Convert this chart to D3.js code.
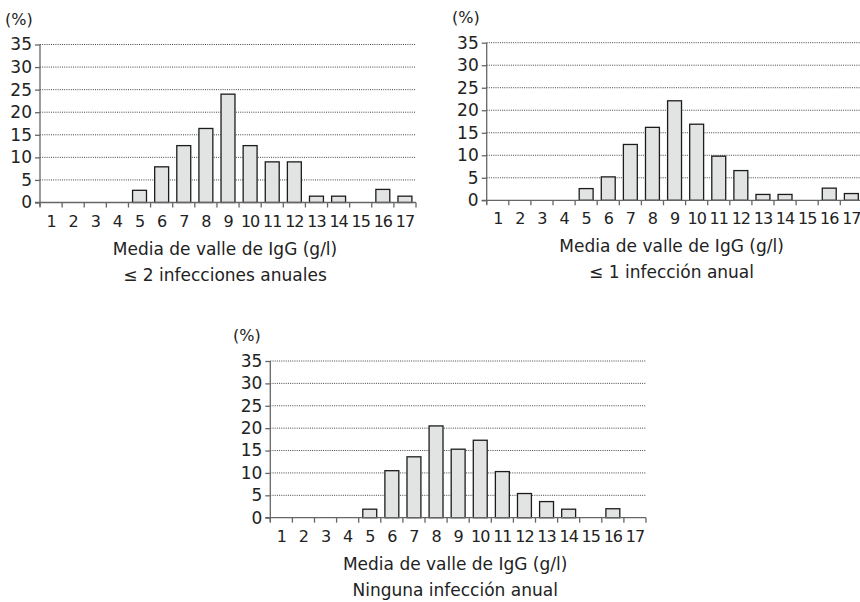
<!DOCTYPE html>
<html>
<head>
<meta charset="utf-8">
<script src="https://cdn.jsdelivr.net/npm/d3@7"></script>
<style>
  body { margin: 0; background: #fff; }
  svg { display: block; font-family: "DejaVu Sans", sans-serif; }
</style>
</head>
<body>
<svg id="chart" width="860" height="602"></svg>
<script>
const bins = ["1","2","3","4","5","6","7","8","9","10","11","12","13","14","15","16","17"];
const yTicks = [0, 5, 10, 15, 20, 25, 30, 35];
const xTitle = "Media de valle de IgG (g/l)";

const upTo2 = [0, 0, 0, 0, 2.7, 7.9, 12.6, 16.4, 24.0, 12.6, 9.0, 9.0, 1.4, 1.4, 0, 2.9, 1.4];
const upTo1 = [0, 0, 0, 0, 2.6, 5.2, 12.4, 16.2, 22.1, 16.9, 9.8, 6.6, 1.3, 1.3, 0, 2.7, 1.5];
const noInfection = [0, 0, 0, 0, 1.9, 10.5, 13.6, 20.5, 15.3, 17.3, 10.3, 5.4, 3.6, 1.9, 0, 2.0, 0];

const panelTitles = ["≤ 2 infecciones anuales", "≤ 1 infección anual", "Ninguna infección anual"];

const svg = d3.select("#chart");

function drawPanel(values, title, box) {
    const x = d3.scaleBand()
        .domain(bins)
        .range([box.left, box.right]);
    const y = d3.scaleLinear()
        .domain([0, 35])
        .range([box.bottom, box.top]);

    const g = svg.append("g");

    // dotted grid lines
    g.selectAll("line.grid")
        .data(yTicks.filter(d => d > 0))
        .enter()
        .append("line")
        .attr("class", "grid")
        .attr("x1", box.left)
        .attr("x2", Math.min(box.right, 860))
        .attr("y1", d => y(d))
        .attr("y2", d => y(d))
        .attr("stroke", "#444")
        .attr("stroke-width", 1)
        .attr("stroke-dasharray", "1,1.2");

    // bars
    const barW = x.bandwidth() * 0.63;
    g.selectAll("rect")
        .data(values.map((v, i) => ({ bin: bins[i], v })).filter(d => d.v > 0))
        .enter()
        .append("rect")
        .attr("x", d => x(d.bin) + (x.bandwidth() - barW) / 2)
        .attr("y", d => y(d.v))
        .attr("width", barW)
        .attr("height", d => y(0) - y(d.v))
        .attr("fill", "#e2e4e4")
        .attr("stroke", "#1c1c1c")
        .attr("stroke-width", 1.3);

    // y axis
    const yAxis = g.append("g")
        .attr("transform", `translate(${box.left},0)`)
        .call(d3.axisLeft(y).tickValues(yTicks).tickSize(5).tickPadding(3));
    yAxis.attr("font-size", null).attr("font-family", null);
    yAxis.select(".domain").attr("d", `M0,${box.top}V${box.bottom + 4}`);
    yAxis.selectAll(".domain, .tick line").attr("stroke", "#666").attr("stroke-width", 1.3);
    yAxis.selectAll("text")
        .style("font-size", "17px")
        .attr("fill", "#222");

    // x axis: ticks at bin edges
    const edges = bins.map(b => x(b)).concat([box.right]);
    const xAxis = g.append("g");
    xAxis.append("line")
        .attr("x1", box.left - 5)
        .attr("x2", box.right)
        .attr("y1", y(0))
        .attr("y2", y(0));
    xAxis.selectAll("line.tick")
        .data(edges)
        .enter()
        .append("line")
        .attr("class", "tick")
        .attr("x1", d => d)
        .attr("x2", d => d)
        .attr("y1", y(0))
        .attr("y2", y(0) + 5);
    xAxis.selectAll("line").attr("stroke", "#666").attr("stroke-width", 1.3);

    xAxis.selectAll("text")
        .data(bins)
        .enter()
        .append("text")
        .attr("x", d => x(d) + x.bandwidth() / 2)
        .attr("y", y(0) + 24)
        .attr("text-anchor", "middle")
        .style("font-size", "16px")
        .style("letter-spacing", "-1px")
        .attr("fill", "#222")
        .text(d => d);

    const mid = (box.left + box.right) / 2 - 3;

    g.append("text")
        .attr("x", box.pctX)
        .attr("y", box.top - 20)
        .style("font-size", "16px")
        .attr("fill", "#222")
        .text("(%)");

    g.append("text")
        .attr("x", mid)
        .attr("y", y(0) + 52)
        .attr("text-anchor", "middle")
        .style("font-size", "17px")
        .attr("fill", "#222")
        .text(xTitle);

    g.append("text")
        .attr("x", mid)
        .attr("y", y(0) + 78)
        .attr("text-anchor", "middle")
        .style("font-size", "17px")
        .attr("fill", "#222")
        .text(title);
}

drawPanel(upTo2, panelTitles[0], { left: 40, right: 416, top: 44.5, bottom: 202.5, pctX: 5 });
drawPanel(upTo1, panelTitles[1], { left: 486.7, right: 862.4, top: 42.7, bottom: 200.3, pctX: 452 });
drawPanel(noInfection, panelTitles[2], { left: 270.3, right: 646, top: 361, bottom: 517.7, pctX: 233 });
</script>
</body>
</html>
